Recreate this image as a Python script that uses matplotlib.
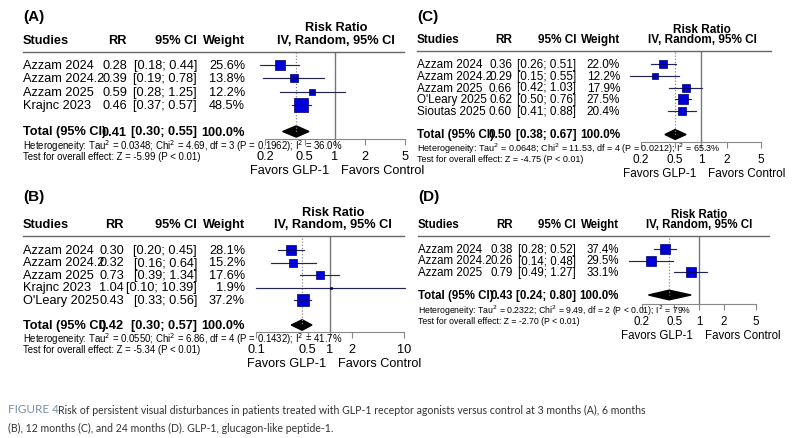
import matplotlib.pyplot as plt
import numpy as np

plt.rcParams['font.family'] = ['Liberation Sans', 'DejaVu Sans']

W, H = 808, 439

# ---- data ----
a_studies = ['Azzam 2024', 'Azzam 2024.2', 'Azzam 2025', 'Krajnc 2023']
a_rr = [0.28, 0.39, 0.59, 0.46]
a_lo = [0.18, 0.19, 0.28, 0.37]
a_hi = [0.44, 0.78, 1.25, 0.57]
a_wt = [25.6, 13.8, 12.2, 48.5]
a_total = (0.41, 0.30, 0.55)
a_het = 'Heterogeneity: Tau$^2$ = 0.0348; Chi$^2$ = 4.69, df = 3 (P = 0.1962); I$^2$ = 36.0%'
a_test = 'Test for overall effect: Z = -5.99 (P < 0.01)'
a_ticks = [0.2, 0.5, 1, 2, 5]

b_studies = ['Azzam 2024', 'Azzam 2024.2', 'Azzam 2025', 'Krajnc 2023', "O'Leary 2025"]
b_rr = [0.30, 0.32, 0.73, 1.04, 0.43]
b_lo = [0.20, 0.16, 0.39, 0.10, 0.33]
b_hi = [0.45, 0.64, 1.34, 10.39, 0.56]
b_wt = [28.1, 15.2, 17.6, 1.9, 37.2]
b_total = (0.42, 0.30, 0.57)
b_het = 'Heterogeneity: Tau$^2$ = 0.0550; Chi$^2$ = 6.86, df = 4 (P = 0.1432); I$^2$ = 41.7%'
b_test = 'Test for overall effect: Z = -5.34 (P < 0.01)'
b_ticks = [0.1, 0.5, 1, 2, 10]

c_studies = ['Azzam 2024', 'Azzam 2024.2', 'Azzam 2025', "O'Leary 2025", 'Sioutas 2025']
c_rr = [0.36, 0.29, 0.66, 0.62, 0.60]
c_lo = [0.26, 0.15, 0.42, 0.50, 0.41]
c_hi = [0.51, 0.55, 1.03, 0.76, 0.88]
c_wt = [22.0, 12.2, 17.9, 27.5, 20.4]
c_total = (0.50, 0.38, 0.67)
c_het = 'Heterogeneity: Tau$^2$ = 0.0648; Chi$^2$ = 11.53, df = 4 (P = 0.0212); I$^2$ = 65.3%'
c_test = 'Test for overall effect: Z = -4.75 (P < 0.01)'
c_ticks = [0.2, 0.5, 1, 2, 5]

d_studies = ['Azzam 2024', 'Azzam 2024.2', 'Azzam 2025']
d_rr = [0.38, 0.26, 0.79]
d_lo = [0.28, 0.14, 0.49]
d_hi = [0.52, 0.48, 1.27]
d_wt = [37.4, 29.5, 33.1]
d_total = (0.43, 0.24, 0.80)
d_het = 'Heterogeneity: Tau$^2$ = 0.2322; Chi$^2$ = 9.49, df = 2 (P < 0.01); I$^2$ = 79%'
d_test = 'Test for overall effect: Z = -2.70 (P < 0.01)'
d_ticks = [0.2, 0.5, 1, 2, 5]

fig = plt.figure(figsize=(W / 100, H / 100), dpi=100)


def T(x, y, s, **kw):
    kw.setdefault('va', 'center')
    return fig.text(x / W, 1 - y / H, s, **kw)


def panel(label, studies, rr, lo, hi, wt, total, het, test, ticks, L):
    fs = L['fs']
    n = len(studies)
    sp = L['sp']
    y0 = L['row0']
    T(L['sx'], L['lab_y'], label, fontsize=11, fontweight='bold')
    T(L['px'], L['rr_y'], 'Risk Ratio', fontsize=fs, fontweight='bold', ha='center')
    hy = L['top'] - 12
    T(L['sx'], hy, 'Studies', fontsize=fs, fontweight='bold')
    T(L['rrx'], hy, 'RR', fontsize=fs, fontweight='bold', ha='right')
    T(L['cix'], hy, '95% CI', fontsize=fs, fontweight='bold', ha='right')
    T(L['wx'], hy, 'Weight', fontsize=fs, fontweight='bold', ha='right')
    T(L['px'], hy, 'IV, Random, 95% CI', fontsize=fs, fontweight='bold', ha='center')
    fig.add_artist(plt.Line2D([L['sx'] / W, L['lx1'] / W], [1 - L['top'] / H] * 2,
                              color='#666666', lw=1))
    for i in range(n):
        y = y0 + i * sp
        T(L['sx'], y, studies[i], fontsize=fs)
        T(L['rrx'], y, f'{rr[i]:.2f}', fontsize=fs, ha='right')
        T(L['cix'], y, f'[{lo[i]:.2f}; {hi[i]:.2f}]', fontsize=fs, ha='right')
        T(L['wx'], y, f'{wt[i]:.1f}%', fontsize=fs, ha='right')
    ty = y0 + (n + 1) * sp
    T(L['sx'], ty, 'Total (95% CI)', fontsize=fs, fontweight='bold')
    T(L['rrx'], ty, f'{total[0]:.2f}', fontsize=fs, fontweight='bold', ha='right')
    T(L['cix'], ty, f'[{total[1]:.2f}; {total[2]:.2f}]', fontsize=fs, fontweight='bold', ha='right')
    T(L['wx'], ty, '100.0%', fontsize=fs, fontweight='bold', ha='right')
    T(L['sx'], L['axis'] + 6, het, fontsize=L['hfs'])
    T(L['sx'], L['axis'] + 17, test, fontsize=L['hfs'])

    # forest axes
    x0, x1 = L['ax0'], L['ax1']
    ax = fig.add_axes([x0 / W, 1 - L['axis'] / H, (x1 - x0) / W, (L['axis'] - L['top']) / H])
    ax.set_xscale('log')
    ax.set_xlim(ticks[0], ticks[-1])
    ax.set_ylim((L['axis'] - y0) / sp, (L['top'] - y0) / sp)
    ax.patch.set_alpha(0)
    for s in ['left', 'right', 'top']:
        ax.spines[s].set_visible(False)
    ax.spines['bottom'].set_color('#888888')
    ax.set_yticks([])
    ax.set_xticks(ticks)
    ax.set_xticklabels([f'{t:g}' for t in ticks])
    ax.minorticks_off()
    ax.tick_params(axis='x', labelsize=fs, length=4, color='#888888', pad=4)
    ax.axvline(1, color='#777777', lw=1)
    ax.plot([total[0], total[0]], [-1, n + 1], color='#888888', lw=0.9, ls=(0, (1, 1.5)))
    ms_k = L['ms']
    for i in range(n):
        ax.plot([lo[i], hi[i]], [i, i], color='#777777', lw=0.9, clip_on=False)
        ax.plot(rr[i], i, 's', ms=ms_k * np.sqrt(wt[i]), mfc='#0000dd', mec='#000066',
                mew=0.5, clip_on=False)
        ax.plot([lo[i], hi[i]], [i, i], color='#000044', lw=0.5, clip_on=False)
    dh = 0.42
    ax.fill([total[1], total[0], total[2], total[0]], [n + 1, n + 1 - dh, n + 1, n + 1 + dh],
            color='black', clip_on=False)
    T(L['fav'] - 6, L['axis'] + 31, 'Favors GLP-1', fontsize=fs, ha='right')
    T(L['fav'] + 6, L['axis'] + 31, 'Favors Control', fontsize=fs, ha='left')


panel('(A)', a_studies, a_rr, a_lo, a_hi, a_wt, a_total, a_het, a_test, a_ticks,
      dict(fs=9.2, hfs=6.9, sp=13.3, row0=66, top=53, axis=140, sx=23, rrx=127, cix=197,
           wx=245, px=336, lx1=404, ax0=265, ax1=405, lab_y=17, rr_y=28, ms=1.4, fav=335))
panel('(B)', b_studies, b_rr, b_lo, b_hi, b_wt, b_total, b_het, b_test, b_ticks,
      dict(fs=9.2, hfs=6.9, sp=12.5, row0=251, top=237, axis=333, sx=23, rrx=124, cix=197,
           wx=245, px=333, lx1=404, ax0=256, ax1=404, lab_y=197, rr_y=213, ms=1.4, fav=332))
panel('(C)', c_studies, c_rr, c_lo, c_hi, c_wt, c_total, c_het, c_test, c_ticks,
      dict(fs=8.5, hfs=6.5, sp=11.75, row0=65, top=52, axis=143, sx=417, rrx=512, cix=576,
           wx=620, px=702, lx1=771, ax0=641, ax1=761, lab_y=17, rr_y=30, ms=1.3, fav=702))
panel('(D)', d_studies, d_rr, d_lo, d_hi, d_wt, d_total, d_het, d_test, d_ticks,
      dict(fs=8.3, hfs=6.3, sp=11.5, row0=250, top=237, axis=305, sx=418, rrx=513, cix=576,
           wx=619, px=699, lx1=769, ax0=642, ax1=756, lab_y=197, rr_y=215, ms=1.25, fav=699))

cap1 = ('Risk of persistent visual disturbances in patients treated with GLP-1 receptor agonists '
        'versus control at 3 months (A), 6 months')
cap2 = '(B), 12 months (C), and 24 months (D). GLP-1, glucagon-like peptide-1.'
cap_font = ['Lato', 'DejaVu Sans']
T(8, 410, 'FIGURE 4', fontsize=8.5, color='#7a8fa8', family=cap_font)
T(58, 410, cap1, fontsize=7.6, color='#333333', family=cap_font)
T(8, 428, cap2, fontsize=7.6, color='#333333', family=cap_font)

fig.savefig('out.png', dpi=100)
